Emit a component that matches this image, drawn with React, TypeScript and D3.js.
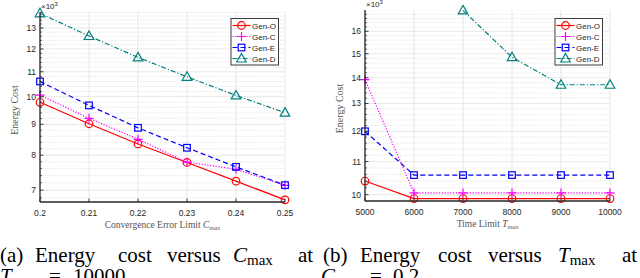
import React from 'react';
import * as d3 from 'd3';

// series names and styles order
const seriesNames = ['Gen-O', 'Gen-C', 'Gen-E', 'Gen-D'];

// (a) energy cost versus C_max
const cmaxValues = [0.2, 0.21, 0.22, 0.23, 0.24, 0.25];
const cmaxGenO = [9790, 9020, 8350, 7780, 7245, 6745];
const cmaxGenC = [10060, 9210, 8500, 7790, 7580, 7130];
const cmaxGenE = [10600, 9675, 8880, 8230, 7650, 7135];
const cmaxGenD = [13750, 12610, 11620, 10790, 10050, 9410];
const cmaxTicks = [0.2, 0.21, 0.22, 0.23, 0.24, 0.25];
const cmaxYTicks = [7000, 8000, 9000, 10000, 11000, 12000, 13000];

// (b) energy cost versus T_max
const tmaxValues = [5000, 6000, 7000, 8000, 9000, 10000];
const tmaxGenO = [10400, 9890, 9890, 9890, 9890, 9890];
const tmaxGenC = [13920, 10050, 10050, 10050, 10050, 10050];
const tmaxGenE = [12000, 10580, 10580, 10580, 10580, 10580];
const tmaxGenD = [null, null, 16990, 14850, 13720, 13720];
const tmaxTicks = [5000, 6000, 7000, 8000, 9000, 10000];
const tmaxYTicks = [10000, 11000, 12000, 13000, 14000, 15000, 16000];

const styles = [
  { color: '#ff0000', dash: '', marker: 'circle' },
  { color: '#ff00ff', dash: '1.2,1.6', marker: 'plus' },
  { color: '#0000ff', dash: '5,3', marker: 'square' },
  { color: '#008080', dash: '5,2,1.2,2', marker: 'triangle' },
];

const sans = "'Liberation Sans', Arial, sans-serif";
const serif = "'Liberation Serif', 'Times New Roman', 'DejaVu Serif', serif";

function Marker({ kind, x, y, color }: { kind: string; x: number; y: number; color: string }) {
  const sw = 1.2;
  if (kind === 'circle') return <circle cx={x} cy={y} r={3.8} fill="none" stroke={color} strokeWidth={sw} />;
  if (kind === 'plus')
    return (
      <path d={`M${x - 4.5},${y}H${x + 4.5}M${x},${y - 4.5}V${y + 4.5}`} stroke={color} strokeWidth={sw} />
    );
  if (kind === 'square')
    return <rect x={x - 3.3} y={y - 3.3} width={6.6} height={6.6} fill="none" stroke={color} strokeWidth={sw} />;
  return (
    <path d={`M${x},${y - 5}L${x + 4.8},${y + 3.5}L${x - 4.8},${y + 3.5}Z`} fill="none" stroke={color} strokeWidth={sw} />
  );
}

type PanelProps = {
  xs: number[];
  series: (number | null)[][];
  xDomain: [number, number];
  yDomain: [number, number];
  xRange: [number, number];
  yRange: [number, number];
  xTicks: number[];
  yTicks: number[];
  xFormat: (v: number) => string;
  yLabelX: number;
  xLabel: React.ReactNode;
  legend: { x: number; y: number };
};

function Panel(p: PanelProps) {
  const x = d3.scaleLinear().domain(p.xDomain).range(p.xRange);
  const y = d3.scaleLog().domain(p.yDomain).range(p.yRange);
  const [x0, x1] = p.xRange;
  const [yb, yt] = p.yRange;

  const minor = d3
    .range(Math.ceil(p.yDomain[0] / 200) * 200, p.yDomain[1], 200)
    .filter((v) => v % 1000 !== 0);

  const line = d3
    .line<[number, number | null]>()
    .defined((d) => d[1] != null)
    .x((d) => x(d[0]))
    .y((d) => y(d[1] as number));

  return (
    <g>
      {/* grid */}
      {p.xTicks.map((t) => (
        <line key={'gx' + t} x1={x(t)} x2={x(t)} y1={yt} y2={yb} stroke="#e2e2e2" strokeWidth={0.8} />
      ))}
      {minor.map((t) => (
        <line key={'gm' + t} x1={x0} x2={x1} y1={y(t)} y2={y(t)} stroke="#cdcdcd" strokeWidth={0.6} strokeDasharray="1,1.5" />
      ))}
      {p.yTicks.map((t) => (
        <line key={'gy' + t} x1={x0} x2={x1} y1={y(t)} y2={y(t)} stroke="#e2e2e2" strokeWidth={0.8} />
      ))}

      {/* series */}
      {p.series.map((vals, i) => {
        const st = styles[i];
        const pts = p.xs.map((v, j) => [v, vals[j]] as [number, number | null]);
        return (
          <g key={'s' + i}>
            <path d={line(pts) || ''} fill="none" stroke={st.color} strokeWidth={1.2} strokeDasharray={st.dash} />
            {pts
              .filter((d) => d[1] != null)
              .map((d, j) => (
                <Marker key={j} kind={st.marker} x={x(d[0])} y={y(d[1] as number)} color={st.color} />
              ))}
          </g>
        );
      })}

      {/* axes */}
      <line x1={x0} x2={x0} y1={yt} y2={yb} stroke="#262626" strokeWidth={1.3} />
      <line x1={x0} x2={x1} y1={yb} y2={yb} stroke="#262626" strokeWidth={1.3} />
      {minor.map((t) => (
        <line key={'mt' + t} x1={x0} x2={x0 + 2} y1={y(t)} y2={y(t)} stroke="#262626" strokeWidth={0.7} />
      ))}
      {p.yTicks.map((t) => (
        <g key={'yt' + t}>
          <line x1={x0} x2={x0 + 3.5} y1={y(t)} y2={y(t)} stroke="#262626" strokeWidth={0.9} />
          <text x={x0 - 4} y={y(t) + 3} textAnchor="end" fontFamily={sans} fontSize={8.5} fill="#262626">
            {t / 1000}
          </text>
        </g>
      ))}
      {p.xTicks.map((t) => (
        <g key={'xt' + t}>
          <line x1={x(t)} x2={x(t)} y1={yb} y2={yb - 3.5} stroke="#262626" strokeWidth={0.9} />
          <text x={x(t)} y={yb + 13.5} textAnchor="middle" fontFamily={sans} fontSize={8.5} fill="#262626">
            {p.xFormat(t)}
          </text>
        </g>
      ))}
      <text x={x0 + 1} y={yt - 3} fontFamily={sans} fontSize={8} fill="#262626">
        ×10
        <tspan fontSize={6} dy={-3.5}>3</tspan>
      </text>

      {/* labels */}
      <text
        transform={`translate(${p.yLabelX},${(yt + yb) / 2 + 3}) rotate(-90)`}
        textAnchor="middle"
        fontFamily={serif}
        fontSize={10}
        fill="#555"
      >
        Energy Cost
      </text>
      <text x={(x0 + x1) / 2} y={yb + 26} textAnchor="middle" fontFamily={serif} fontSize={9.5} fill="#555">
        {p.xLabel}
      </text>

      {/* legend */}
      <g transform={`translate(${p.legend.x},${p.legend.y})`}>
        <rect x={0} y={0} width={47.5} height={46.5} fill="#fff" stroke="#262626" strokeWidth={0.9} />
        {seriesNames.map((n, i) => {
          const st = styles[i];
          const ly = 7 + i * 11;
          return (
            <g key={n}>
              <line x1={1.5} x2={19.5} y1={ly} y2={ly} stroke={st.color} strokeWidth={1.2} strokeDasharray={st.dash} />
              <Marker kind={st.marker} x={10.5} y={ly} color={st.color} />
              <text x={21} y={ly + 3} fontFamily={sans} fontSize={8} fill="#262626">
                {n}
              </text>
            </g>
          );
        })}
      </g>
    </g>
  );
}

function CaptionWords({ words, y }: { words: { x: number; t: React.ReactNode }[]; y: number }) {
  return (
    <g>
      {words.map((w, i) => (
        <text key={i} x={w.x} y={y} fontFamily={serif} fontSize={21} fill="#000">
          {w.t}
        </text>
      ))}
    </g>
  );
}

export default function App() {
  return (
    <svg width={640} height={278} style={{ position: 'absolute', left: 0, top: 0, background: '#fff' }}>
      <Panel
        xs={cmaxValues}
        series={[cmaxGenO, cmaxGenC, cmaxGenE, cmaxGenD]}
        xDomain={[0.2, 0.25]}
        yDomain={[6690, 13820]}
        xRange={[40, 285]}
        yRange={[202, 12]}
        xTicks={cmaxTicks}
        yTicks={cmaxYTicks}
        xFormat={(v) => String(+v.toFixed(2))}
        yLabelX={18}
        xLabel={
          <>
            Convergence Error Limit <tspan fontStyle="italic">C</tspan>
            <tspan fontStyle="italic" fontSize={6.5} dy={2}>max</tspan>
          </>
        }
        legend={{ x: 231, y: 18.5 }}
      />
      <Panel
        xs={tmaxValues}
        series={[tmaxGenO, tmaxGenC, tmaxGenE, tmaxGenD]}
        xDomain={[5000, 10000]}
        yDomain={[9820, 17010]}
        xRange={[365, 610]}
        yRange={[201, 10]}
        xTicks={tmaxTicks}
        yTicks={tmaxYTicks}
        xFormat={(v) => String(v)}
        yLabelX={343}
        xLabel={
          <>
            Time Limit <tspan fontStyle="italic">T</tspan>
            <tspan fontStyle="italic" fontSize={6.5} dy={2}>max</tspan>
          </>
        }
        legend={{ x: 555, y: 18.5 }}
      />

      <CaptionWords
        y={262}
        words={[
          { x: 0, t: '(a)' },
          { x: 35, t: 'Energy' },
          { x: 118, t: 'cost' },
          { x: 167, t: 'versus' },
          {
            x: 233,
            t: (
              <>
                <tspan fontStyle="italic">C</tspan>
                <tspan fontSize={15} dy={3}>max</tspan>
              </>
            ),
          },
          { x: 298, t: 'at' },
        ]}
      />
      <CaptionWords
        y={283}
        words={[
          {
            x: 0,
            t: (
              <>
                <tspan fontStyle="italic">T</tspan>
                <tspan fontSize={15} dy={3}>max</tspan>
              </>
            ),
          },
          { x: 49, t: '=' },
          { x: 73, t: '10000' },
        ]}
      />
      <CaptionWords
        y={262}
        words={[
          { x: 323, t: '(b)' },
          { x: 360, t: 'Energy' },
          { x: 438, t: 'cost' },
          { x: 488, t: 'versus' },
          {
            x: 558,
            t: (
              <>
                <tspan fontStyle="italic">T</tspan>
                <tspan fontSize={15} dy={3}>max</tspan>
              </>
            ),
          },
          { x: 622, t: 'at' },
        ]}
      />
      <CaptionWords
        y={283}
        words={[
          {
            x: 321,
            t: (
              <>
                <tspan fontStyle="italic">C</tspan>
                <tspan fontSize={15} dy={3}>max</tspan>
              </>
            ),
          },
          { x: 370, t: '=' },
          { x: 393, t: '0.2' },
        ]}
      />
    </svg>
  );
}
